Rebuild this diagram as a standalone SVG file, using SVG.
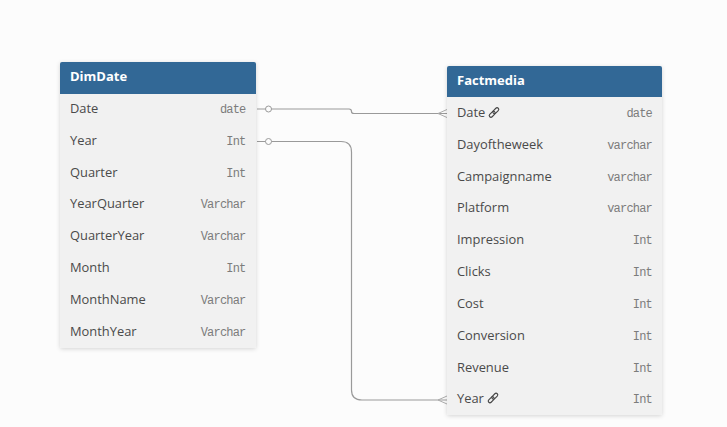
<svg xmlns="http://www.w3.org/2000/svg" width="727" height="427" viewBox="0 0 727 427">
<style>
.t{font:700 13px "Open Sans",sans-serif;fill:#fff}
.n{font:12.9px "Open Sans",sans-serif;fill:#4a4a4a}
.y{font:12px "Liberation Mono",monospace;letter-spacing:-.8px;fill:#7c7c7c;text-anchor:end}
.b{fill:#f1f1f1}
.h{fill:#326896}
.c{fill:none;stroke:#9a9a9a;stroke-width:1.2}
.f{fill:none;stroke:#acacac;stroke-width:1}
.i{fill:none;stroke:#444;stroke-width:1.1}
</style>
<defs>
<filter id="s" x="-10%" y="-10%" width="120%" height="120%"><feDropShadow dx="0" dy="1" stdDeviation="2" flood-color="#000" flood-opacity=".16"/></filter>
<g id="lk"><g transform="rotate(-45)"><rect class="i" x="-6" y="-1.7" width="7" height="3.400" rx="1.700"/><rect class="i" x="-1" y="-1.7" width="7" height="3.400" rx="1.700"/></g></g>
</defs>
<rect width="727" height="427" fill="#fcfcfc"/>
<g id="connectors">
<path class="c" d="M257 109H349q2.500 0 2.500 2.500q0 2 2.500 2H447"/>
<path class="c" d="M257 141.500H341q10.500 0 10.500 10.500V390q0 10 10.500 10H447"/>
<circle cx="268.500" cy="109" r="3" fill="#fcfcfc" stroke="#9a9a9a"/>
<circle cx="268.500" cy="141.500" r="3" fill="#fcfcfc" stroke="#9a9a9a"/>
<path class="f" d="M447 109.500L438 113.500L447 117.500M447 396L438 400L447 404"/>
</g>
<g id="DimDate">
<rect class="b" x="60" y="62" width="196" height="286" rx="2" filter="url(#s)"/>
<path class="h" d="M60 94V64a2 2 0 0 1 2-2H254a2 2 0 0 1 2 2V94Z"/>
<text class="t" x="70" y="81">DimDate</text>
<text class="n" x="70" y="113">Date</text><text class="y" x="245.500" y="112.500">date</text>
<text class="n" x="70" y="145">Year</text><text class="y" x="245.500" y="144.500">Int</text>
<text class="n" x="70" y="177">Quarter</text><text class="y" x="245.500" y="176.500">Int</text>
<text class="n" x="70" y="208">YearQuarter</text><text class="y" x="245.500" y="207.500">Varchar</text>
<text class="n" x="70" y="240">QuarterYear</text><text class="y" x="245.500" y="239.500">Varchar</text>
<text class="n" x="70" y="272">Month</text><text class="y" x="245.500" y="271.500">Int</text>
<text class="n" x="70" y="304">MonthName</text><text class="y" x="245.500" y="303.500">Varchar</text>
<text class="n" x="70" y="336">MonthYear</text><text class="y" x="245.500" y="335.500">Varchar</text>
</g>
<g id="Factmedia">
<rect class="b" x="447" y="66" width="215" height="349" rx="2" filter="url(#s)"/>
<path class="h" d="M447 97V68a2 2 0 0 1 2-2H660a2 2 0 0 1 2 2V97Z"/>
<text class="t" x="457" y="85">Factmedia</text>
<text class="n" x="457" y="117">Date</text><use href="#lk" x="494" y="112.500"/><text class="y" x="652" y="116.500">date</text>
<text class="n" x="457" y="149">Dayoftheweek</text><text class="y" x="652" y="148.500">varchar</text>
<text class="n" x="457" y="181">Campaignname</text><text class="y" x="652" y="180.500">varchar</text>
<text class="n" x="457" y="212">Platform</text><text class="y" x="652" y="211.500">varchar</text>
<text class="n" x="457" y="244">Impression</text><text class="y" x="652" y="243.500">Int</text>
<text class="n" x="457" y="276">Clicks</text><text class="y" x="652" y="275.500">Int</text>
<text class="n" x="457" y="308">Cost</text><text class="y" x="652" y="307.500">Int</text>
<text class="n" x="457" y="340">Conversion</text><text class="y" x="652" y="339.500">Int</text>
<text class="n" x="457" y="372">Revenue</text><text class="y" x="652" y="371.500">Int</text>
<text class="n" x="457" y="403">Year</text><use href="#lk" x="493" y="398"/><text class="y" x="652" y="402.500">Int</text>
</g>
</svg>
